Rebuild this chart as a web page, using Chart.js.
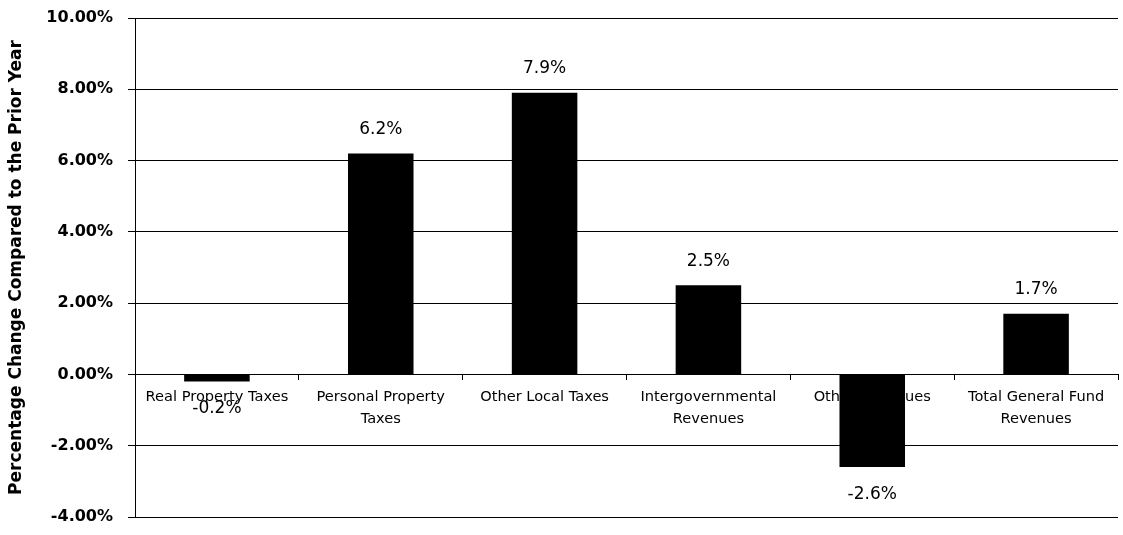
<!DOCTYPE html>
<html>
<head>
<meta charset="utf-8">
<script src="https://cdn.jsdelivr.net/npm/chart.js@4/dist/chart.umd.min.js"></script>
<style>
  html, body { margin: 0; padding: 0; background: #fff; }
  #wrap { width: 1123px; height: 535px; }
</style>
</head>
<body>
<div id="wrap"><canvas id="chart"></canvas></div>
<script>
"use strict";

// data
const categories = [
	"Real Property Taxes",
	["Personal Property", "Taxes"],
	"Other Local Taxes",
	["Intergovernmental", "Revenues"],
	"Other Revenues",
	["Total General Fund", "Revenues"]
];
const changes = [-0.2, 6.2, 7.9, 2.5, -2.6, 1.7];
const yTicks = [-4, -2, 0, 2, 4, 6, 8, 10];

const FONT = "'DejaVu Sans', sans-serif";

// value labels above / below each bar
const valueLabels = {
	id: "valueLabels",
	afterDatasetsDraw(chart) {
		const ctx = chart.ctx;
		const meta = chart.getDatasetMeta(0);
		ctx.save();
		ctx.font = "17px " + FONT;
		ctx.fillStyle = "#000";
		ctx.textAlign = "center";
		ctx.textBaseline = "middle";
		meta.data.forEach((bar, i) => {
			const v = changes[i];
			const y = v >= 0 ? bar.y - 24 : bar.y + 27;
			ctx.fillText(v.toFixed(1) + "%", bar.x, y);
		});
		ctx.restore();
	}
};

new Chart(document.getElementById("chart"), {
	type: "bar",
	data: {
		labels: categories,
		datasets: [{
			data: changes,
			backgroundColor: "#000",
			categoryPercentage: 1,
			barPercentage: 0.4
		}]
	},
	options: {
		responsive: true,
		maintainAspectRatio: false,
		animation: false,
		layout: { padding: { left: 6, right: 5, top: 18, bottom: 18 } },
		plugins: {
			legend: { display: false },
			tooltip: { enabled: false }
		},
		scales: {
			x: {
				position: { y: 0 },
				grid: { drawOnChartArea: false, offset: true, tickLength: 5, color: "#000", lineWidth: 1 },
				border: { color: "#000", width: 1 },
				ticks: {
					color: "#000",
					font: { family: FONT, size: 14.6, lineHeight: 1.5 },
					padding: 7,
					maxRotation: 0,
					autoSkip: false
				}
			},
			y: {
				min: -4,
				max: 10,
				afterBuildTicks(scale) {
					scale.ticks = yTicks.map(v => ({ value: v }));
				},
				afterFit(scale) {
					scale.width = 129;
					scale.paddingTop = 0;
					scale.paddingBottom = 0;
				},
				grid: { color: "#000", lineWidth: 1, tickLength: 7 },
				border: { color: "#000", width: 1 },
				ticks: {
					color: "#000",
					font: { family: FONT, size: 16, weight: "bold" },
					padding: 15,
					callback: v => v.toFixed(2) + "%"
				},
				title: {
					display: true,
					text: "Percentage Change Compared to the Prior Year",
					color: "#000",
					font: { family: FONT, size: 17, weight: "bold" },
					padding: { top: 0, bottom: 2 }
				}
			}
		}
	},
	plugins: [valueLabels]
});
</script>
</body>
</html>
